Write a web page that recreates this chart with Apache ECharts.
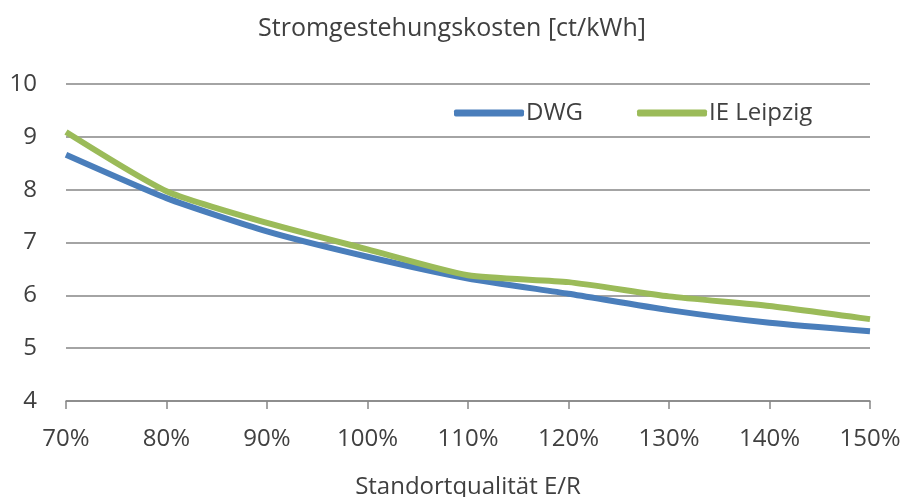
<!DOCTYPE html>
<html>
<head>
<meta charset="utf-8">
<script src="https://cdn.jsdelivr.net/npm/echarts@6/dist/echarts.min.js"></script>
<style>
  html, body { margin: 0; padding: 0; background: #fff; }
  #chart { width: 904px; height: 497px; }
</style>
</head>
<body>
<div id="chart"></div>
<script>
// Standortqualität (Ertrag relativ zum Referenzertrag)
const categories = ['70%', '80%', '90%', '100%', '110%', '120%', '130%', '140%', '150%'];
// Stromgestehungskosten in ct/kWh
const dwg = [8.66, 7.84, 7.21, 6.73, 6.32, 6.03, 5.72, 5.48, 5.32];
const ieLeipzig = [9.09, 7.97, 7.37, 6.87, 6.38, 6.25, 5.98, 5.80, 5.55];
const yTicks = [4, 5, 6, 7, 8, 9, 10];

const textColor = '#404040';
const fontFamily = '"Open Sans", "Noto Sans", sans-serif';
const fontSize = 24;

const chart = echarts.init(document.getElementById('chart'), null, { renderer: 'canvas' });
chart.setOption({
  animation: false,
  backgroundColor: '#ffffff',
  textStyle: { fontFamily: fontFamily, color: textColor },
  title: {
    text: 'Stromgestehungskosten [ct/kWh]',
    left: 'center',
    top: 11,
    textStyle: { fontSize: 25, fontWeight: 'normal', color: textColor, fontFamily: fontFamily }
  },
  legend: {
    left: 449,
    top: 96,
    itemWidth: 70,
    itemHeight: 7,
    itemGap: 54,
    icon: 'roundRect',
    textStyle: { fontSize: fontSize, color: textColor, fontFamily: fontFamily, padding: [0, 0, 0, -3] },
    data: ['DWG', 'IE Leipzig']
  },
  grid: { left: 66, right: 34, top: 84, bottom: 96, outerBoundsMode: 'none', containLabel: false },
  xAxis: {
    type: 'category',
    data: categories,
    boundaryGap: false,
    name: 'Standortqualität E/R',
    nameLocation: 'middle',
    nameGap: 74,
    nameTextStyle: { fontSize: fontSize, color: textColor, fontFamily: fontFamily },
    axisLine: { lineStyle: { color: '#868686', width: 1.5 } },
    axisTick: { length: 8, lineStyle: { color: '#868686', width: 1.5 } },
    axisLabel: { fontSize: fontSize, color: textColor, margin: 26 }
  },
  yAxis: {
    type: 'value',
    min: yTicks[0],
    max: yTicks[yTicks.length - 1],
    interval: 1,
    axisLine: { show: false },
    axisTick: { show: false },
    axisLabel: { fontSize: fontSize, color: textColor, margin: 29 },
    splitLine: { lineStyle: { color: '#868686', width: 1.5 } }
  },
  series: [
    {
      name: 'DWG',
      type: 'line',
      data: dwg,
      smooth: 0.2,
      symbol: 'none',
      lineStyle: { color: '#4A7EBB', width: 6 },
      itemStyle: { color: '#4A7EBB' }
    },
    {
      name: 'IE Leipzig',
      type: 'line',
      data: ieLeipzig,
      smooth: 0.2,
      symbol: 'none',
      lineStyle: { color: '#9BBB59', width: 6 },
      itemStyle: { color: '#9BBB59' }
    }
  ]
});
</script>
</body>
</html>
